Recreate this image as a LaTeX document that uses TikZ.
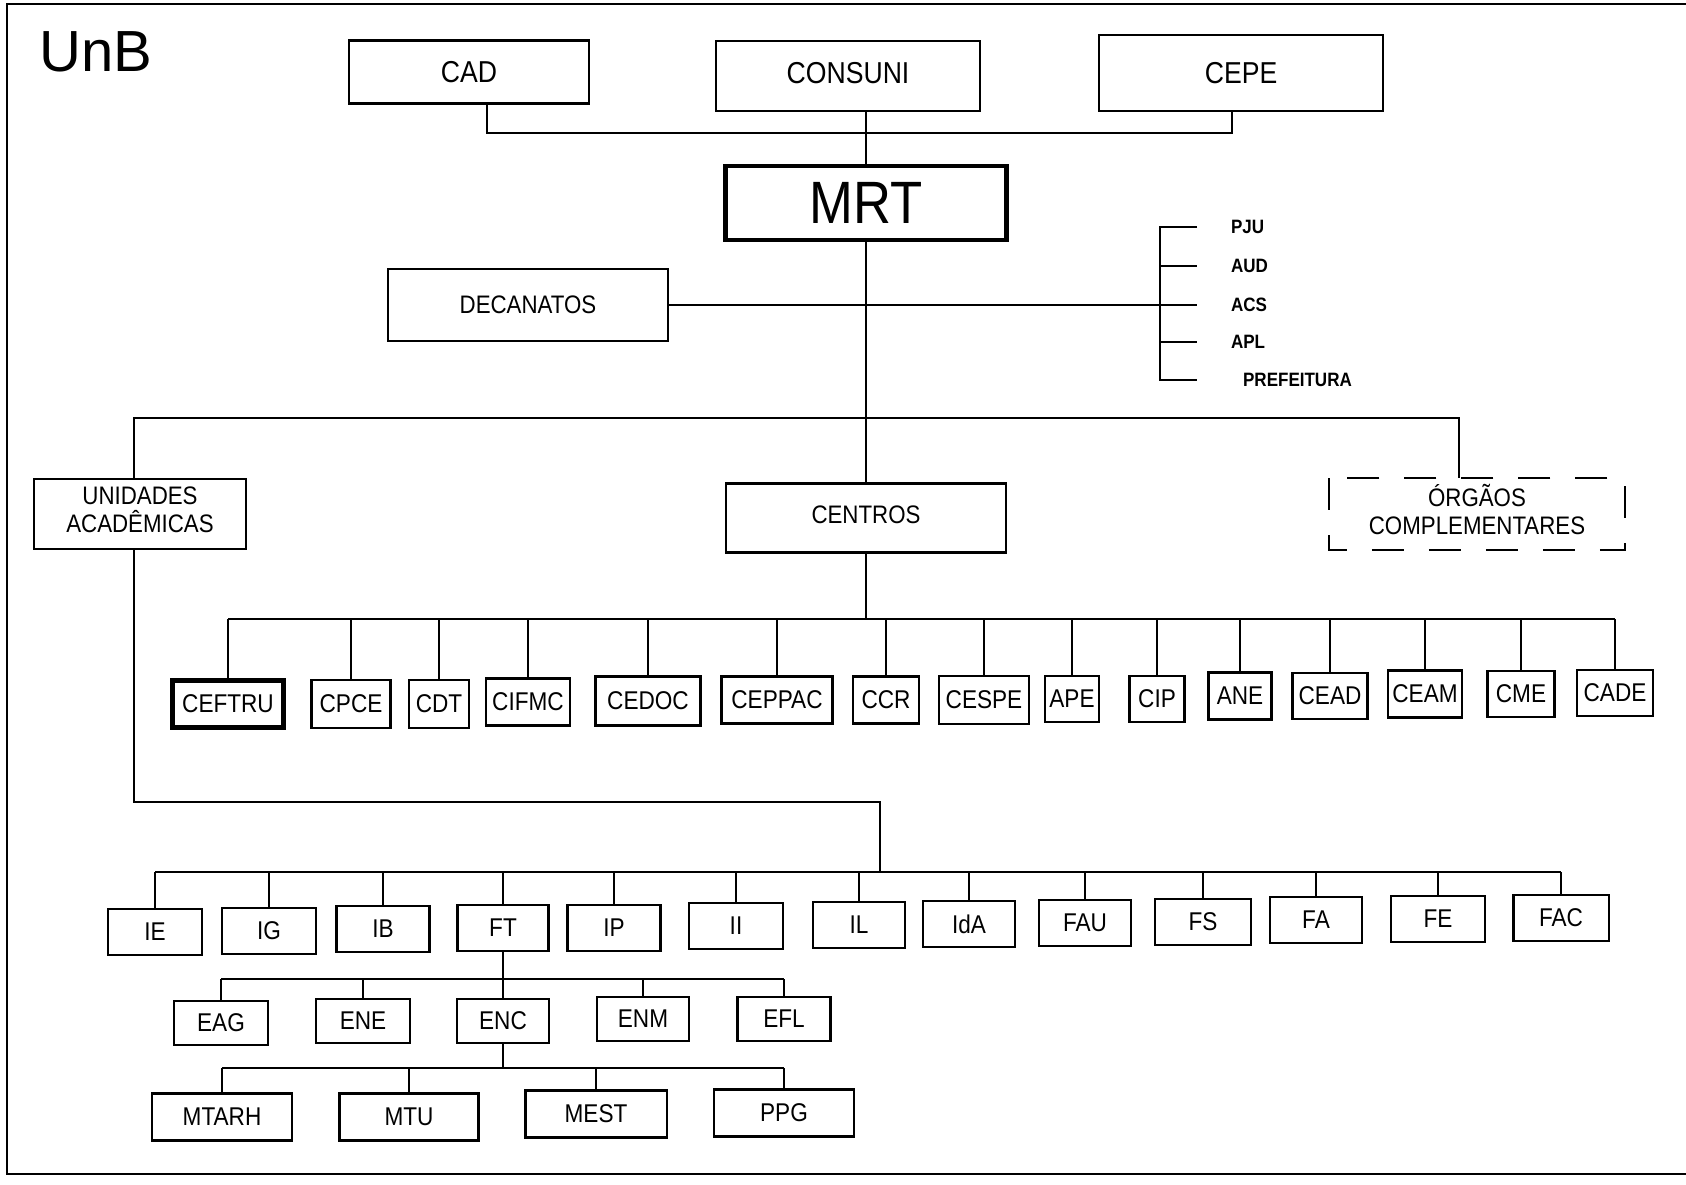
\documentclass[tikz,border=0pt]{standalone}
\usepackage{fontspec}
\setmainfont{Liberation Sans}[FakeStretch=0.88]
\newfontfamily\widefont{Liberation Sans}
\usepackage{tikz}

\begin{document}
\begin{tikzpicture}[x=0.01cm,y=-0.01cm,line width=0.6pt,
    box/.style={draw,inner sep=0pt,align=center,font=\fontsize{7.3}{8}\selectfont},
    topbox/.style={box,font=\fontsize{8.6}{10}\selectfont},
    midbox/.style={box,font=\fontsize{7.2}{8}\selectfont},
    lbl/.style={anchor=west,inner ysep=0pt,inner xsep=0.33cm,font=\bfseries\fontsize{5.5}{6}\selectfont},
  ]
    \useasboundingbox (0,0) rectangle (1686,1184);
    \draw[line width=0.8pt] (1686,4) -- (7,4) -- (7,1174) -- (1686,1174);
    \node[font=\widefont\fontsize{16.5}{19}\selectfont] (unb) at (96,52) {UnB};

    \node[topbox,minimum width=2.40cm,minimum height=0.63cm] (cad) at (469,72) {CAD};
    \node[topbox,minimum width=2.63cm,minimum height=0.70cm] (consuni) at (848,76) {CONSUNI\strut};
    \node[topbox,minimum width=2.83cm,minimum height=0.76cm] (cepe) at (1241,73) {CEPE};
    \node[box,line width=1.4pt,font=\fontsize{17}{20}\selectfont,minimum width=2.80cm,minimum height=0.74cm] (mrt) at (866,203) {MRT};
    \node[midbox,minimum width=2.80cm,minimum height=0.72cm] (decanatos) at (528,305) {DECANATOS};

    \node[lbl] (pju) at (1197,227) {PJU};
    \node[lbl] (aud) at (1197,266) {AUD};
    \node[lbl] (acs) at (1197,305) {ACS};
    \node[lbl] (apl) at (1197,342) {APL};
    \node[lbl,inner xsep=0.45cm] (pref) at (1197,380) {PREFEITURA};
    \coordinate (brk) at (1160,305);

    \node[midbox,minimum width=2.11cm,minimum height=0.70cm] (unidades) at (140,514) {UNIDADES\\ACADÊMICAS\strut};
    \node[midbox,minimum width=2.80cm,minimum height=0.69cm] (centros) at (866,518) {CENTROS\strut};
    \node[midbox,draw=none,minimum width=2.94cm,minimum height=0.69cm] (orgaos) at (1477,514) {ÓRGÃOS\\COMPLEMENTARES\strut};
    \draw[dash pattern=on 0.32cm off 0.25cm] (orgaos.north west) rectangle (orgaos.south east);

    \node[box,line width=1.4pt,minimum width=1.11cm,minimum height=0.47cm] (ceftru) at (228,704) {CEFTRU};
    \node[box,minimum width=0.79cm,minimum height=0.48cm] (cpce) at (351,704) {CPCE};
    \node[box,minimum width=0.60cm,minimum height=0.48cm] (cdt) at (439,704) {CDT};
    \node[box,minimum width=0.84cm,minimum height=0.47cm] (cifmc) at (528,702) {CIFMC};
    \node[box,minimum width=1.05cm,minimum height=0.49cm] (cedoc) at (648,701) {CEDOC};
    \node[box,minimum width=1.11cm,minimum height=0.47cm] (ceppac) at (777,700) {CEPPAC};
    \node[box,minimum width=0.66cm,minimum height=0.47cm] (ccr) at (886,700) {CCR};
    \node[box,minimum width=0.90cm,minimum height=0.48cm] (cespe) at (984,700) {CESPE};
    \node[box,minimum width=0.54cm,minimum height=0.46cm] (ape) at (1072,699) {APE};
    \node[box,minimum width=0.55cm,minimum height=0.46cm] (cip) at (1157,699) {CIP};
    \node[box,minimum width=0.63cm,minimum height=0.47cm] (ane) at (1240,696) {ANE};
    \node[box,minimum width=0.75cm,minimum height=0.46cm] (cead) at (1330,696) {CEAD};
    \node[box,minimum width=0.74cm,minimum height=0.47cm] (ceam) at (1425,694) {CEAM};
    \node[box,minimum width=0.67cm,minimum height=0.46cm] (cme) at (1521,694) {CME};
    \node[box,minimum width=0.76cm,minimum height=0.46cm] (cade) at (1615,693) {CADE};

    \node[box,minimum width=0.94cm,minimum height=0.46cm] (ie) at (155,932) {IE};
    \node[box,minimum width=0.94cm,minimum height=0.46cm] (ig) at (269,931) {IG};
    \node[box,minimum width=0.93cm,minimum height=0.46cm] (ib) at (383,929) {IB};
    \node[box,minimum width=0.91cm,minimum height=0.46cm] (ft) at (503,928) {FT};
    \node[box,minimum width=0.93cm,minimum height=0.46cm] (ip) at (614,928) {IP};
    \node[box,minimum width=0.94cm,minimum height=0.46cm] (ii) at (736,926) {II};
    \node[box,minimum width=0.92cm,minimum height=0.46cm] (il) at (859,925) {IL};
    \node[box,minimum width=0.92cm,minimum height=0.46cm] (ida) at (969,924) {IdA};
    \node[box,minimum width=0.92cm,minimum height=0.46cm] (fau) at (1085,923) {FAU};
    \node[box,minimum width=0.96cm,minimum height=0.46cm] (fs) at (1203,922) {FS};
    \node[box,minimum width=0.92cm,minimum height=0.46cm] (fa) at (1316,920) {FA};
    \node[box,minimum width=0.94cm,minimum height=0.46cm] (fe) at (1438,919) {FE};
    \node[box,minimum width=0.95cm,minimum height=0.46cm] (fac) at (1561,918) {FAC};

    \node[box,minimum width=0.94cm,minimum height=0.44cm] (eag) at (221,1023) {EAG};
    \node[box,minimum width=0.94cm,minimum height=0.44cm] (ene) at (363,1021) {ENE};
    \node[box,minimum width=0.92cm,minimum height=0.44cm] (enc) at (503,1021) {ENC};
    \node[box,minimum width=0.92cm,minimum height=0.44cm] (enm) at (643,1019) {ENM};
    \node[box,minimum width=0.93cm,minimum height=0.44cm] (efl) at (784,1019) {EFL};

    \node[box,minimum width=1.40cm,minimum height=0.47cm] (mtarh) at (222,1117) {MTARH};
    \node[box,minimum width=1.39cm,minimum height=0.47cm] (mtu) at (409,1117) {MTU};
    \node[box,minimum width=1.41cm,minimum height=0.47cm] (mest) at (596,1114) {MEST};
    \node[box,minimum width=1.40cm,minimum height=0.47cm] (ppg) at (784,1113) {PPG};

    \draw ([xshift=0.18cm]cad.south) -- ++(0,28) -| ([xshift=-0.09cm]cepe.south);
    \draw (mrt.north) -- (mrt.north |- consuni.south);
    \draw (mrt.south) -- (centros.north);
    \draw (decanatos.east) -- (acs.west);
    \draw (pju.west) -- (pju.west -| brk) -- (pref.west -| brk) -- (pref.west);
    \draw (aud.west -| brk) -- (aud.west);
    \draw (apl.west -| brk) -- (apl.west);
    \draw ([xshift=-0.06cm]unidades.north) -- ++(0,-60) -| ([xshift=-0.18cm]orgaos.north);

    \draw (centros.south) -- ++(0,65) coordinate (cbar);
    \draw (ceftru.north |- cbar) -- (cade.north |- cbar);
    \draw (ceftru.north) -- (ceftru.north |- cbar);
    \draw (cpce.north) -- (cpce.north |- cbar);
    \draw (cdt.north) -- (cdt.north |- cbar);
    \draw (cifmc.north) -- (cifmc.north |- cbar);
    \draw (cedoc.north) -- (cedoc.north |- cbar);
    \draw (ceppac.north) -- (ceppac.north |- cbar);
    \draw (ccr.north) -- (ccr.north |- cbar);
    \draw (cespe.north) -- (cespe.north |- cbar);
    \draw (ape.north) -- (ape.north |- cbar);
    \draw (cip.north) -- (cip.north |- cbar);
    \draw (ane.north) -- (ane.north |- cbar);
    \draw (cead.north) -- (cead.north |- cbar);
    \draw (ceam.north) -- (ceam.north |- cbar);
    \draw (cme.north) -- (cme.north |- cbar);
    \draw (cade.north) -- (cade.north |- cbar);

    \coordinate (ubar) at (880,872);
    \draw ([xshift=-0.06cm]unidades.south) -- ++(0,252) -| (ubar);
    \draw (ie.north |- ubar) -- (fac.north |- ubar);
    \draw (ie.north) -- (ie.north |- ubar);
    \draw (ig.north) -- (ig.north |- ubar);
    \draw (ib.north) -- (ib.north |- ubar);
    \draw (ft.north) -- (ft.north |- ubar);
    \draw (ip.north) -- (ip.north |- ubar);
    \draw (ii.north) -- (ii.north |- ubar);
    \draw (il.north) -- (il.north |- ubar);
    \draw (ida.north) -- (ida.north |- ubar);
    \draw (fau.north) -- (fau.north |- ubar);
    \draw (fs.north) -- (fs.north |- ubar);
    \draw (fa.north) -- (fa.north |- ubar);
    \draw (fe.north) -- (fe.north |- ubar);
    \draw (fac.north) -- (fac.north |- ubar);

    \coordinate (fbar) at (503,979);
    \draw (ft.south) -- (enc.north);
    \draw (eag.north |- fbar) -- (efl.north |- fbar);
    \draw (eag.north) -- (eag.north |- fbar);
    \draw (ene.north) -- (ene.north |- fbar);
    \draw (enm.north) -- (enm.north |- fbar);
    \draw (efl.north) -- (efl.north |- fbar);

    \coordinate (ebar) at (503,1068);
    \draw (enc.south) -- (enc.south |- ebar);
    \draw (mtarh.north |- ebar) -- (ppg.north |- ebar);
    \draw (mtarh.north) -- (mtarh.north |- ebar);
    \draw (mtu.north) -- (mtu.north |- ebar);
    \draw (mest.north) -- (mest.north |- ebar);
    \draw (ppg.north) -- (ppg.north |- ebar);
  \end{tikzpicture}
\end{document}
